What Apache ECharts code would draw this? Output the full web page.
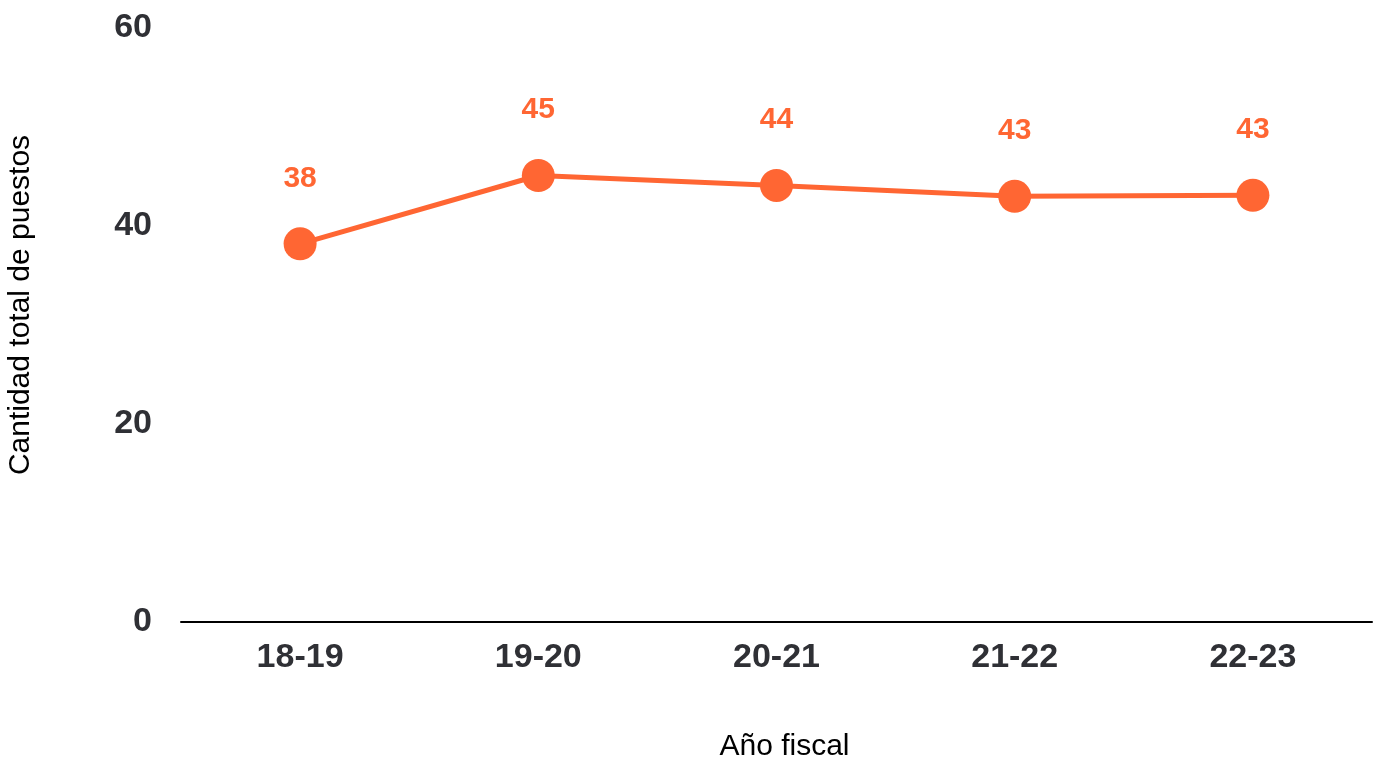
<!DOCTYPE html>
<html>
<head>
<meta charset="utf-8">
<script src="https://cdn.jsdelivr.net/npm/echarts@6/dist/echarts.min.js"></script>
<style>html,body{margin:0;padding:0;background:#fff}#c{width:1390px;height:760px}</style>
</head>
<body>
<div id="c"></div>
<script>
const categories = ['18-19', '19-20', '20-21', '21-22', '22-23'];
const values = [38.2, 45.1, 44.1, 43.0, 43.1];
const labels = ['38', '45', '44', '43', '43'];
const yTicks = [0, 20, 40, 60];

const chart = echarts.init(document.getElementById('c'), null, {renderer: 'canvas'});
const font = 'Liberation Sans, Helvetica, Arial, sans-serif';
chart.setOption({
  animation: false,
  grid: {left: 181, right: 18, top: 28, bottom: 138, containLabel: false, outerBoundsMode: 'none'},
  xAxis: {
    type: 'category',
    data: categories,
    boundaryGap: true,
    axisLine: {show: true, lineStyle: {color: '#000', width: 2}},
    axisTick: {show: false},
    axisLabel: {color: '#2f3035', fontSize: 34, fontWeight: 'bold', fontFamily: font, margin: 19},
    name: 'Año fiscal',
    nameLocation: 'middle',
    nameGap: 110,
    nameTextStyle: {color: '#000', fontSize: 30, fontFamily: font, padding: [0, 0, 0, 16]}
  },
  yAxis: {
    type: 'value',
    min: yTicks[0],
    max: yTicks[yTicks.length - 1],
    interval: 20,
    axisLine: {show: false},
    axisTick: {show: false},
    splitLine: {show: false},
    axisLabel: {color: '#2f3035', fontSize: 34, fontWeight: 'bold', fontFamily: font, margin: 29},
    name: 'Cantidad total de puestos',
    nameLocation: 'middle',
    nameGap: 145,
    nameRotate: 90,
    nameTextStyle: {color: '#000', fontSize: 30, fontFamily: font, padding: [0, 0, 0, 40]}
  },
  series: [{
    type: 'line',
    data: values,
    symbol: 'circle',
    symbolSize: 33,
    itemStyle: {color: '#ff6633'},
    lineStyle: {color: '#ff6633', width: 5},
    label: {
      show: true,
      position: 'top',
      distance: 34,
      color: '#ff6633',
      fontSize: 30,
      fontWeight: 'bold',
      fontFamily: font,
      formatter: p => labels[p.dataIndex]
    }
  }]
});
</script>
</body>
</html>
